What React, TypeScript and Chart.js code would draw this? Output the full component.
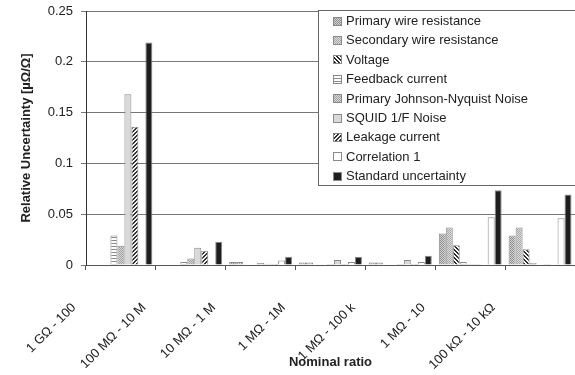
import React, { useEffect, useRef } from 'react';
import { Chart, registerables } from 'chart.js';

Chart.register(...registerables);

const categories = ['1 GΩ - 100', '100 MΩ - 10 M', '10 MΩ - 1 M', '1 MΩ - 1M', '1 MΩ - 100 k', '1 MΩ - 10', '100 kΩ - 10 kΩ'];

const seriesNames = [
  'Primary wire resistance',
  'Secondary wire resistance',
  'Voltage',
  'Feedback current',
  'Primary Johnson-Nyquist Noise',
  'SQUID 1/F Noise',
  'Leakage current',
  'Correlation 1',
  'Standard uncertainty',
];

const primaryWire = [0, 0, 0.003, 0.0025, 0.0025, 0.031, 0.029];
const secondaryWire = [0, 0, 0.003, 0.0025, 0.0025, 0.037, 0.037];
const voltage = [0, 0, 0, 0, 0, 0.0195, 0.0155];
const feedbackCurrent = [0.029, 0.003, 0, 0, 0, 0.003, 0.002];
const johnsonNyquist = [0.019, 0.0065, 0.002, 0.001, 0.001, 0.001, 0.0005];
const squidNoise = [0.168, 0.017, 0.0012, 0.005, 0.005, 0.001, 0.001];
const leakageCurrent = [0.136, 0.014, 0.001, 0.001, 0.001, 0, 0];
const correlation1 = [0, 0, 0.0045, 0.003, 0.003, 0.047, 0.046];
const standardUncertainty = [0.219, 0.023, 0.008, 0.008, 0.009, 0.0735, 0.0695];

const seriesValues = [
  primaryWire,
  secondaryWire,
  voltage,
  feedbackCurrent,
  johnsonNyquist,
  squidNoise,
  leakageCurrent,
  correlation1,
  standardUncertainty,
];

const yTicks = [0, 0.05, 0.1, 0.15, 0.2, 0.25];

function makePattern(size: number, draw: (c: CanvasRenderingContext2D) => void): CanvasPattern | string {
  const cv = document.createElement('canvas');
  cv.width = size;
  cv.height = size;
  const c = cv.getContext('2d');
  if (!c) return '#bbb';
  draw(c);
  return c.createPattern(cv, 'repeat') || '#bbb';
}

function px(c: CanvasRenderingContext2D, color: string, pts: number[][]) {
  c.fillStyle = color;
  pts.forEach(([x, y]) => c.fillRect(x, y, 1, 1));
}

function buildFills(): (CanvasPattern | string)[] {
  const checker = (a: string, b: string) =>
    makePattern(2, (c) => {
      c.fillStyle = b;
      c.fillRect(0, 0, 2, 2);
      px(c, a, [[0, 0], [1, 1]]);
    });
  const primary = checker('#8e8e8e', '#d2d2d2');
  const secondary = checker('#a6a6a6', '#dedede');
  const volt = makePattern(4, (c) => {
    c.fillStyle = '#ffffff';
    c.fillRect(0, 0, 4, 4);
    px(c, '#2a2a2a', [[0, 0], [1, 1], [2, 2], [3, 3], [1, 0], [2, 1], [3, 2], [0, 3]]);
  });
  const feedback = makePattern(3, (c) => {
    c.fillStyle = '#ffffff';
    c.fillRect(0, 0, 3, 3);
    c.fillStyle = '#8a8a8a';
    c.fillRect(0, 0, 3, 1);
  });
  const pjn = checker('#a0a0a0', '#d8d8d8');
  const squid = '#d9d9d9';
  const leak = makePattern(4, (c) => {
    c.fillStyle = '#f4f4f4';
    c.fillRect(0, 0, 4, 4);
    px(c, '#303030', [[3, 0], [2, 1], [1, 2], [0, 3], [0, 0], [3, 1], [2, 2], [1, 3]]);
  });
  return [primary, secondary, volt, feedback, pjn, squid, leak, '#ffffff', '#1e1e1e'];
}

const boxLegend = {
  id: 'boxLegend',
  afterDatasetsDraw(chart: any) {
    const ctx: CanvasRenderingContext2D = chart.ctx;
    const x0 = 318;
    const y0 = 10;
    const h = 175;
    ctx.save();
    ctx.fillStyle = '#ffffff';
    ctx.fillRect(x0, y0, 300, h);
    ctx.strokeStyle = '#666666';
    ctx.lineWidth = 1;
    ctx.strokeRect(x0 + 0.5, y0 + 0.5, 300, h);
    ctx.font = '13px "Liberation Sans", Arial, sans-serif';
    ctx.textBaseline = 'middle';
    chart.data.datasets.forEach((ds: any, i: number) => {
      const cy = 21 + i * 19.4;
      ctx.fillStyle = ds.backgroundColor;
      ctx.fillRect(333, Math.round(cy - 4.5), 9, 9);
      ctx.strokeStyle = '#8a8a8a';
      ctx.strokeRect(333.5, Math.round(cy - 4.5) + 0.5, 8, 8);
      ctx.fillStyle = '#222222';
      ctx.fillText(ds.label, 346, cy + 0.5);
    });
    ctx.restore();
  },
};

export default function App() {
  const ref = useRef<HTMLCanvasElement | null>(null);

  useEffect(() => {
    if (!ref.current) return;
    const fills = buildFills();
    Chart.defaults.font.family = '"Liberation Sans", Arial, sans-serif';
    Chart.defaults.font.size = 13;
    Chart.defaults.color = '#222222';
    const chart = new Chart(ref.current, {
      type: 'bar',
      data: {
        labels: categories,
        datasets: seriesNames.map((name, i) => ({
          label: name,
          data: seriesValues[i],
          backgroundColor: fills[i] as any,
          borderColor: '#8a8a8a',
          borderWidth: 1,
          categoryPercentage: 0.9,
          barPercentage: 1.0,
        })),
      },
      options: {
        responsive: false,
        animation: false,
        devicePixelRatio: 1,
        layout: { padding: { left: 0, right: 0, top: 11, bottom: 0 } },
        plugins: {
          legend: { display: false },
          tooltip: { enabled: false },
        },
        scales: {
          x: {
            grid: {
              display: true,
              drawOnChartArea: false,
              drawTicks: true,
              tickLength: 5,
              color: '#555555',
              offset: true,
            },
            border: { display: true, color: '#555555' },
            ticks: {
              autoSkip: false,
              minRotation: 45,
              maxRotation: 45,
              labelOffset: -47,
              padding: 30,
              font: { size: 13 },
              color: '#222222',
            },
            title: {
              display: true,
              text: 'Nominal ratio',
              font: { size: 13, weight: 'bold' },
              color: '#222222',
              padding: { top: 0, bottom: 5 },
            },
            afterFit: (scale: any) => {
              scale.height = 110;
              scale.paddingLeft = 0;
              scale.paddingRight = 0;
            },
          },
          y: {
            min: 0,
            max: 0.25,
            afterBuildTicks: (scale: any) => {
              scale.ticks = yTicks.map((v) => ({ value: v }));
            },
            grid: {
              color: '#777777',
              lineWidth: 1,
              drawTicks: true,
              tickLength: 5,
            },
            border: { display: true, color: '#333333' },
            ticks: {
              padding: 8,
              font: { size: 13 },
              color: '#222222',
              callback: (v: any) => String(Number(v)),
            },
            title: {
              display: true,
              text: 'Relative Uncertainty [µΩ/Ω]',
              font: { size: 13, weight: 'bold' },
              color: '#222222',
              padding: { top: 19, bottom: 0 },
            },
            afterFit: (scale: any) => {
              scale.width = 86;
              scale.paddingTop = 0;
              scale.paddingBottom = 0;
            },
          },
        },
      },
      plugins: [boxLegend],
    });
    return () => chart.destroy();
  }, []);

  return (
    <div style={{ position: 'absolute', left: 0, top: 0, width: 575, height: 375, background: '#fff' }}>
      <canvas ref={ref} width={575} height={375} />
    </div>
  );
}
